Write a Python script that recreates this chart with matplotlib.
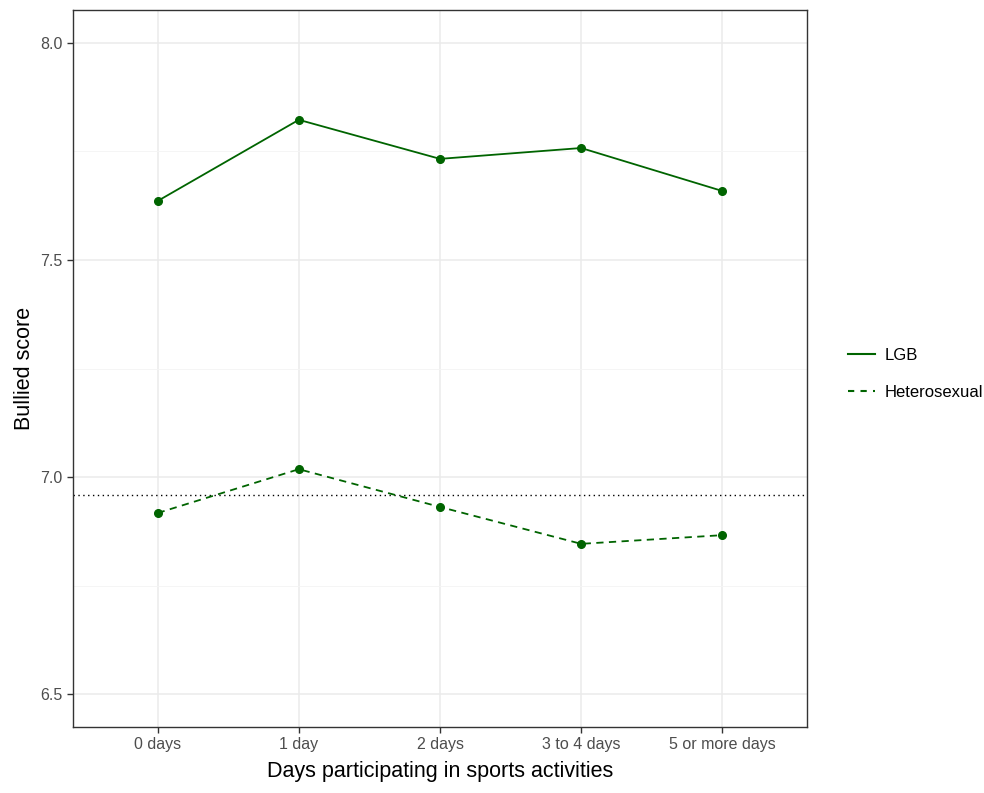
import numpy as np
import matplotlib.pyplot as plt
from matplotlib.lines import Line2D

plt.rcParams.update({
    "font.family": ["Liberation Sans", "DejaVu Sans"],
})

categories = ["0 days", "1 day", "2 days", "3 to 4 days", "5 or more days"]
lgb = [7.636, 7.823, 7.733, 7.758, 7.659]
hetero = [6.917, 7.018, 6.931, 6.846, 6.866]
ref_line = 6.959

GREEN = "#006400"

fig = plt.figure(figsize=(9.84, 7.93), dpi=100)
ax = fig.add_axes([73 / 984, 1 - 727 / 793, (807 - 73) / 984, (727 - 10) / 793])

x = np.arange(len(categories))
ax.plot(x, lgb, color=GREEN, lw=1.3, marker="o", ms=5.5, zorder=3)
ax.plot(x, hetero, color=GREEN, lw=1.3, ls=(0, (4, 3)), marker="o", ms=5.5, zorder=3)
ax.axhline(ref_line, color="black", lw=1.0, ls=(0, (1, 2.5)), zorder=2)

ax.set_xlim(-0.6, 4.6)
ax.set_ylim(6.424, 8.076)
ax.set_xticks(x)
ax.set_xticklabels(categories)
ax.set_yticks([6.5, 7.0, 7.5, 8.0])
ax.set_yticklabels(["6.5", "7.0", "7.5", "8.0"])
ax.set_yticks([6.75, 7.25, 7.75], minor=True)

ax.grid(True, which="major", color="#EBEBEB", lw=1.1, zorder=0)
ax.grid(True, which="minor", axis="y", color="#F4F4F4", lw=0.6, zorder=0)
ax.set_axisbelow(True)
for s in ax.spines.values():
    s.set_color("#333333")
    s.set_linewidth(1.0)
ax.tick_params(axis="both", which="major", colors="#333333", labelcolor="#4D4D4D",
               labelsize=11.5, length=4, width=1.0)
ax.tick_params(axis="y", which="minor", length=0)

ax.set_xlabel("Days participating in sports activities", fontsize=15.5, labelpad=6)
ax.set_ylabel("Bullied score", fontsize=15.5, labelpad=4)

handles = [Line2D([], [], color=GREEN, lw=1.5),
           Line2D([], [], color=GREEN, lw=1.5, ls=(0, (3, 3)))]
fig.legend(handles, ["LGB", "Heterosexual"], loc="center left",
           bbox_to_anchor=(833 / 984, 1 - 374 / 793), frameon=False,
           fontsize=12, handlelength=1.6, labelspacing=1.3, handletextpad=0.6)

fig.savefig("out.png", dpi=100, facecolor="white")
